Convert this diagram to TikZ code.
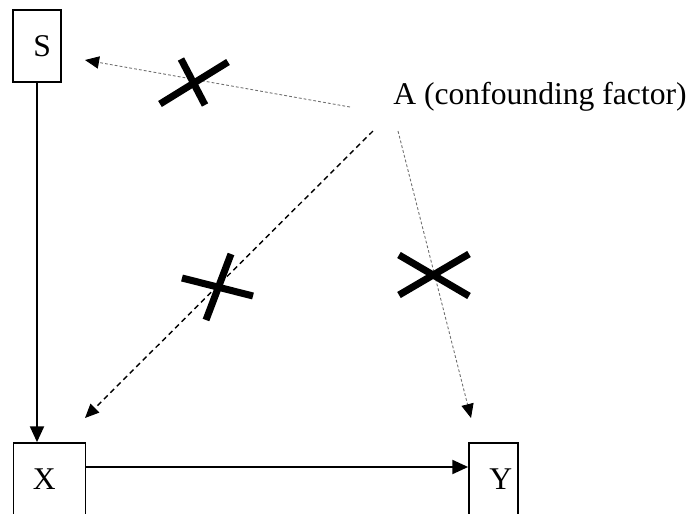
\documentclass[tikz,border=0pt]{standalone}
\usepackage{fontspec}
\setmainfont{Liberation Serif}
\usetikzlibrary{arrows.meta,positioning,calc}
\definecolor{ink}{HTML}{000000}
\definecolor{mute}{HTML}{6E6E6E}
\tikzset{
  box/.style={draw=ink,line width=1pt,minimum width=#1,minimum height=1.44cm,inner sep=0pt},
  tag/.style={anchor=west,inner sep=0pt,font=\fontsize{18}{21}\selectfont,text=ink},
  link/.style={draw=ink,line width=1.1pt,-{Triangle[length=9pt,width=8pt]}},
  hint/.style={draw=mute,line width=0.5pt,dash pattern=on 1.6pt off 1.2pt,-{Triangle[length=8pt,width=7pt,color=ink]}},
  hintbold/.style={draw=ink,line width=0.8pt,dash pattern=on 3pt off 2.2pt,-{Triangle[length=8pt,width=7pt]}},
  cross/.style={draw=ink,line width=4pt}
}
\begin{document}
\begin{tikzpicture}[x=0.02cm,y=-0.02cm]
\clip (0,0) rectangle (691,514);
% boxes
\node[box=0.96cm] (S) at (37,46) {};
\node[box=1.44cm] (X) at (49.5,479) {};
\node[box=0.98cm] (Y) at (493.5,479) {};
\node[tag] (Stxt) at ($(S.west)+(21,0)$) {S};
\node[tag] (Xtxt) at ($(X.west)+(20,0)$) {X};
\node[tag] (Ytxt) at ($(Y.west)+(21,0)$) {Y};
\node[tag,anchor=base west] (A) at (393,104) {A (confounding factor)};
% free ends of the dotted links
\coordinate (a1) at (350,107);
\coordinate (a2) at (373,131);
\coordinate (a3) at (398,131);
\coordinate (s1) at (85,60);
\coordinate (x1) at (85,418);
\coordinate (y1) at (471,418);
% links
\draw[link] (S.south) -- (S.south |- X.north);
\draw[link] ($(X.east)+(0,-12)$) -- ($(Y.west)+(0,-12)$);
\draw[hint] (a1) -- (s1);
\draw[hintbold] (a2) -- (x1);
\draw[hint] (a3) -- (y1);
% crosses
\foreach \p/\q in {{(160,104)}/{(228,62)},{(181,59)}/{(205,105)},{(182,278)}/{(253,296)},{(231,254)}/{(206,320)},{(399,255)}/{(469,296)},{(399,295)}/{(469,254)}}{
  \draw[cross] \p -- \q;
}
\end{tikzpicture}
\end{document}
